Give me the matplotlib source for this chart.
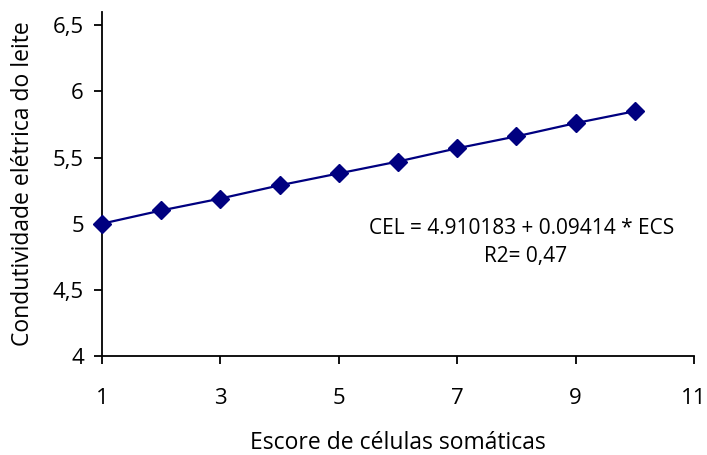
import matplotlib.pyplot as plt

plt.rcParams['font.family'] = ['Open Sans', 'DejaVu Sans']

escore = [1, 2, 3, 4, 5, 6, 7, 8, 9, 10]
condutividade = [5.00, 5.10, 5.19, 5.29, 5.38, 5.47, 5.57, 5.66, 5.76, 5.85]

x_ticks = [1, 3, 5, 7, 9, 11]
y_ticks = [4, 4.5, 5, 5.5, 6, 6.5]
y_labels = ['4', '4,5', '5', '5,5', '6', '6,5']

fig = plt.figure(figsize=(7.07, 4.55), dpi=100)
ax = fig.add_axes([0.1443, 0.2176, 0.8373, 0.756])

ax.plot(escore, condutividade, color='#000080', lw=1.6, marker='D',
        markersize=9, clip_on=False, zorder=3)

ax.set_xlim(1, 11)
ax.set_ylim(4, 6.6)
ax.set_xticks(x_ticks)
ax.set_yticks(y_ticks)
ax.set_yticklabels(y_labels)

for side in ['top', 'right']:
    ax.spines[side].set_visible(False)
for side in ['left', 'bottom']:
    ax.spines[side].set_linewidth(1.3)
ax.tick_params(direction='out', length=6, width=1.3, labelsize=16)
ax.tick_params(axis='x', pad=17)
ax.tick_params(axis='y', pad=7)

ax.set_xlabel('Escore de células somáticas', fontsize=16.5, labelpad=16)
ax.set_ylabel('Condutividade elétrica do leite', fontsize=16.5, labelpad=13)

ax.text(8.09, 4.967, 'CEL = 4.910183 + 0.09414 * ECS', fontsize=15,
        ha='center', va='center')
ax.text(8.15, 4.755, 'R2= 0,47', fontsize=15, ha='center', va='center')

fig.savefig('out.png', dpi=100)
